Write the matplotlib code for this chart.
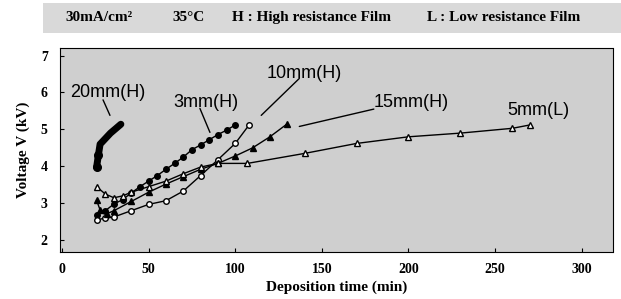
import matplotlib
matplotlib.use("Agg")
import matplotlib.pyplot as plt
from matplotlib.patches import Rectangle

# deposition time (min) / voltage (kV)
t_20mm = [20, 21, 22, 24, 26, 28, 30, 32, 34]
v_20mm = [3.98, 4.3, 4.6, 4.7, 4.8, 4.9, 4.98, 5.06, 5.14]

t_3mm = [20, 25, 30, 35, 40, 45, 50, 55, 60, 65, 70, 75, 80, 85, 90, 95, 100]
v_3mm = [2.68, 2.8, 2.98, 3.1, 3.28, 3.45, 3.6, 3.75, 3.92, 4.08, 4.25, 4.45, 4.58, 4.72, 4.86, 4.98, 5.12]

t_10mm = [20, 25, 30, 40, 50, 60, 70, 80, 90, 100, 108]
v_10mm = [2.55, 2.6, 2.63, 2.8, 2.97, 3.07, 3.33, 3.75, 4.18, 4.62, 5.12]

t_15mm = [20, 22, 26, 30, 40, 50, 60, 70, 80, 90, 100, 110, 120, 130]
v_15mm = [3.08, 2.82, 2.72, 2.8, 3.05, 3.3, 3.52, 3.72, 3.92, 4.08, 4.28, 4.5, 4.8, 5.15]

t_5mm = [20, 25, 30, 35, 40, 50, 60, 70, 80, 90, 107, 140, 170, 200, 230, 260, 270]
v_5mm = [3.45, 3.25, 3.15, 3.2, 3.3, 3.45, 3.6, 3.8, 3.98, 4.08, 4.08, 4.35, 4.62, 4.8, 4.9, 5.03, 5.12]

x_ticks = [0, 50, 100, 150, 200, 250, 300]
y_ticks = [2, 3, 4, 5, 6, 7]

serif = "Liberation Serif"
sans = "Liberation Sans"

fig = plt.figure(figsize=(6.21, 2.99), dpi=100)
ax = fig.add_axes([0.097, 0.157, 0.89, 0.682])
ax.set_facecolor("#cfcfcf")

# header band
fig.patches.append(Rectangle((0.07, 0.89), 0.93, 0.10, transform=fig.transFigure,
                             facecolor="#d9d9d9", edgecolor="none", zorder=0))
hdr = dict(fontfamily=serif, fontweight="bold", fontsize=11, va="center")
fig.text(0.105, 0.943, "30mA/cm²", **hdr)
fig.text(0.278, 0.943, "35°C", **hdr)
fig.text(0.373, 0.943, "H : High resistance Film", **hdr)
fig.text(0.688, 0.943, "L : Low resistance Film", **hdr)

lw = 1.0
ax.plot(t_20mm, v_20mm, color="black", lw=5, solid_capstyle="round")
ax.plot(t_20mm[:2], v_20mm[:2], "o", color="black", ms=5.5)
ax.plot(t_3mm, v_3mm, "-o", color="black", lw=lw, ms=4)
ax.plot(t_10mm, v_10mm, "-o", color="black", lw=lw, ms=4,
        markerfacecolor="white")
ax.plot(t_15mm, v_15mm, "-^", color="black", lw=lw, ms=4)
ax.plot(t_5mm, v_5mm, "-^", color="black", lw=lw, ms=4.5,
        markerfacecolor="white")

# curve labels and leader lines
lab = dict(fontfamily=sans, fontsize=13, color="black", va="center")
ax.text(4.6, 6.0, "20mm(H)", **lab)
ax.text(64, 5.72, "3mm(H)", **lab)
ax.text(118, 6.52, "10mm(H)", **lab)
ax.text(180, 5.72, "15mm(H)", **lab)
ax.text(257, 5.52, "5mm(L)", **lab)
lead = dict(arrowstyle="-", color="black", lw=1, shrinkA=0, shrinkB=0)
ax.annotate("", xy=(27.7, 5.38), xytext=(23.7, 5.8), arrowprops=lead)
ax.annotate("", xy=(85.4, 4.92), xytext=(79.6, 5.57), arrowprops=lead)
ax.annotate("", xy=(115, 5.38), xytext=(137, 6.38), arrowprops=lead)
ax.annotate("", xy=(137, 5.08), xytext=(180, 5.55), arrowprops=lead)

ax.set_xlim(-1, 318)
ax.set_ylim(1.68, 7.2)
ax.set_xticks(x_ticks)
ax.set_yticks(y_ticks)
ax.tick_params(direction="in", length=3, width=0.8, labelsize=10)
ax.tick_params(axis="x", pad=8)
ax.tick_params(axis="y", pad=9)
for t in ax.get_xticklabels() + ax.get_yticklabels():
    t.set_fontfamily(serif)
    t.set_fontweight("bold")
for s in ax.spines.values():
    s.set_linewidth(0.8)
    s.set_linestyle((0, (2, 1)))

ax.set_xlabel("Deposition time (min)", fontfamily=serif, fontweight="bold",
              fontsize=11, labelpad=3)
ax.set_ylabel("Voltage V (kV)", fontfamily=serif, fontweight="bold",
              fontsize=11, labelpad=8)

fig.savefig("out.png", dpi=100)
